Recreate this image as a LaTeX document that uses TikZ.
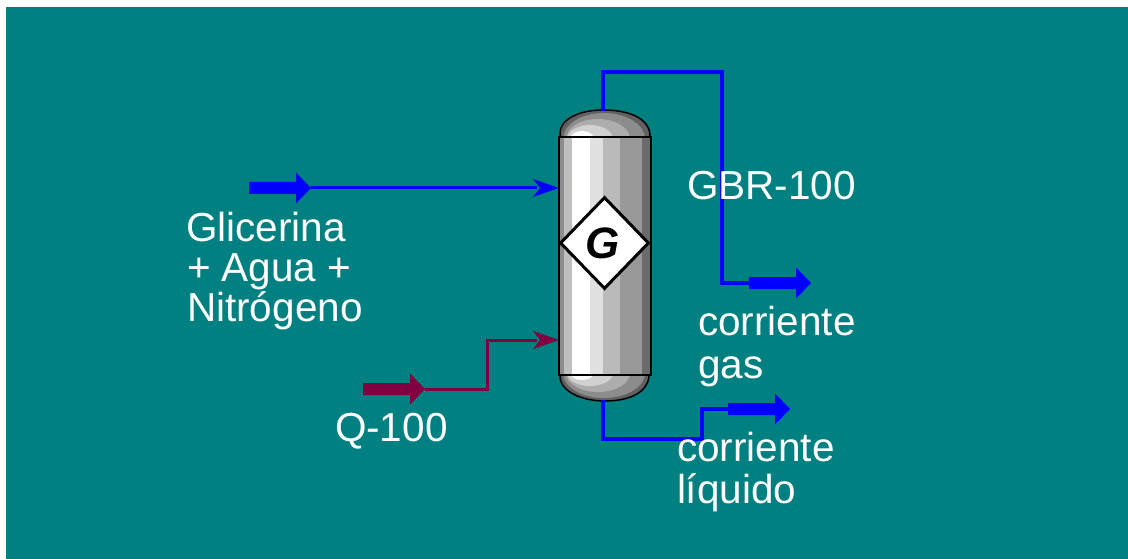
\documentclass[tikz,border=0pt]{standalone}
\usepackage{fontspec}
\setmainfont{Liberation Sans}
\usetikzlibrary{shapes.geometric}
\definecolor{tealbg}{HTML}{008080}
\definecolor{strm}{HTML}{0000FF}
\definecolor{heat}{HTML}{800040}
\newcommand{\streamarrow}[3]{% name of tip, colour, left end
  \fill[#2] ($(#1)+(-62,-6)$) -- ($(#1)+(-15,-6)$) -- ($(#1)+(-15,-15.5)$) -- (#1) -- ($(#1)+(-15,15.5)$) -- ($(#1)+(-15,6)$) -- ($(#1)+(-62,6)$) -- cycle;
  \coordinate (#3) at ($(#1)+(-62,0)$);}
\newcommand{\inlethead}[2]{% tip, colour
  \fill[#2] (#1) -- ($(#1)+(-26,-9)$) -- ($(#1)+(-19,0)$) -- ($(#1)+(-26,9)$) -- cycle;}
\usetikzlibrary{calc}
\tikzset{
  x=1pt,y=-1pt,
  lbl/.style={anchor=base west,inner sep=0pt,outer sep=0pt,text=white,font=\fontsize{40.5}{40.5}\selectfont},
  strmline/.style={draw=strm,line width=4pt,line join=miter},
  feedline/.style={draw=strm,line width=3pt},
  heatline/.style={draw=heat,line width=3pt},
  band/.style={line width=0pt},
  capout/.style={draw=black,line width=1.5pt},
}
\begin{document}
\begin{tikzpicture}
\useasboundingbox (0,0) rectangle (1128,559);
\fill[white] (0,0) rectangle (1128,559);
\fill[tealbg] (6,7) rectangle (1128,559);

% named anchor points
\coordinate (feedtip) at (311,188);
\coordinate (qtip) at (425,389);
\coordinate (gastip) at (811,283);
\coordinate (liqtip) at (790,409);
\coordinate (vtop) at (603,111);
\coordinate (vbot) at (603,400);
\coordinate (vfeed) at (559,188);
\coordinate (vq) at (559,340);

% top cap
\begin{scope}
  \clip (560,137) -- (560,133) .. controls (560,120) and (578,110) .. (603,110) .. controls (632,110) and (650,120) .. (650,137) -- cycle;
  \fill[black!62] (556,105) rectangle (655,140);
  \fill[black!45] (604,139) ellipse [x radius=41,y radius=26];
  \fill[black!32] (598,139) ellipse [x radius=32,y radius=20];
  \fill[black!18] (590,139) ellipse [x radius=23,y radius=14];
  \fill[white] (582,139) ellipse [x radius=12,y radius=8];
\end{scope}
\draw[capout] (560,136) -- (560,133) .. controls (560,120) and (578,110) .. (603,110) .. controls (632,110) and (650,120) .. (650,136);

% bottom cap
\begin{scope}
  \clip (560,374) -- (560,378) .. controls (562,392) and (582,401) .. (605,401) .. controls (630,401) and (648,392) .. (649,374) -- cycle;
  \fill[black!62] (556,370) rectangle (655,405);
  \fill[black!45] (604,373) ellipse [x radius=41,y radius=25];
  \fill[black!32] (598,373) ellipse [x radius=32,y radius=19];
  \fill[black!18] (590,373) ellipse [x radius=23,y radius=13];
  \fill[white] (582,373) ellipse [x radius=12,y radius=7];
\end{scope}
\draw[capout] (560,376) -- (560,378) .. controls (562,392) and (582,401) .. (605,401) .. controls (630,401) and (648,392) .. (649,376);

% body bands
\fill[black!45] (559,137) rectangle (564,375);
\fill[black!25] (564,137) rectangle (572,375);
\fill[white] (572,137) rectangle (590,375);
\fill[black!12] (590,137) rectangle (603,375);
\fill[black!27] (603,137) rectangle (620,375);
\fill[black!40] (620,137) rectangle (642,375);
\fill[black!58] (642,137) rectangle (651,375);
\draw[black,line width=1.5pt] (559,137) rectangle (651,375);

% badge
\node[diamond,draw=black,line width=3pt,fill=white,minimum width=89pt,minimum height=92pt,inner sep=0pt,aspect=1] (badge) at (604.5,243) {};
\node[inner sep=0pt,font=\fontsize{44}{44}\selectfont\bfseries\itshape] (badgeg) at (603,243) {G};

% connectors
\path[feedline] (feedtip) -- ($(vfeed)+(-22,0)$);
\path[heatline] (qtip) -- (487,389) -- (487,340) -- ($(vq)+(-22,0)$);
\path[strmline] (vtop) -- (603,72) -- (722,72) -- (722,283) -- ($(gastip)+(-61,0)$);
\path[strmline] (vbot) -- (603,439) -- (702,439) -- (702,409) -- ($(liqtip)+(-61,0)$);

% arrows
\streamarrow{feedtip}{strm}{feedtail}
\streamarrow{qtip}{heat}{qtail}
\streamarrow{gastip}{strm}{gastail}
\streamarrow{liqtip}{strm}{liqtail}
\inlethead{vfeed}{strm}
\inlethead{vq}{heat}

% labels
\node[lbl] (l1) at (186,241) {Glicerina};
\node[lbl] (l2) at (187,281) {+ Agua +};
\node[lbl] (l3) at (187,321) {Nitrógeno};
\node[lbl] (l4) at (335,441) {Q-100};
\node[lbl] (l5) at (687,200) {GBR-100};
\node[lbl] (l6) at (698,335) {corriente};
\node[lbl] (l7) at (698,378) {gas};
\node[lbl] (l8) at (677,461) {corriente};
\node[lbl] (l9) at (677,503) {líquido};
\end{tikzpicture}
\end{document}
